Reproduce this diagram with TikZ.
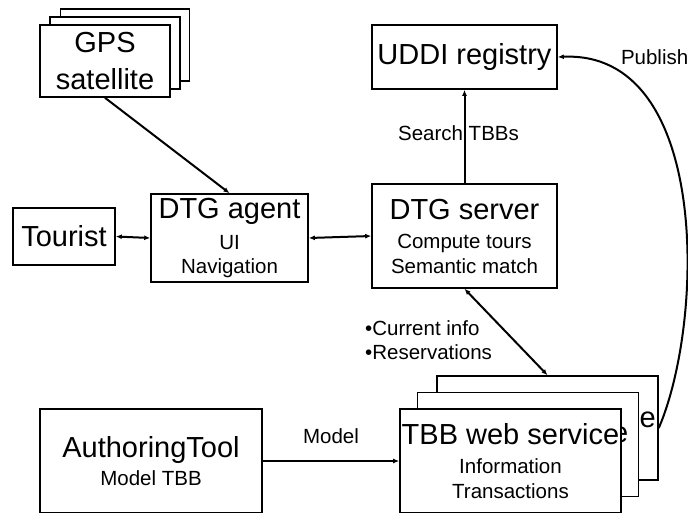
\documentclass[tikz,border=0pt]{standalone}
\usepackage{fontspec}
\setmainfont{Liberation Sans}
\usetikzlibrary{arrows.meta,positioning}
\def\bigf{\fontsize{29}{30}\selectfont}
\def\smf{\fontsize{20.5}{24.5}\selectfont}

\begin{document}
\begin{tikzpicture}[x=1pt, y=-1pt,
		box/.style={draw=black, line width=1.6pt, fill=white, inner sep=0pt, align=center},
		lbl/.style={inner sep=0pt, font=\smf},
		con/.style={line width=2pt, -{Latex[length=6pt,width=5pt]}},
		biconn/.style={line width=2pt, {Latex[length=6pt,width=5pt]}-{Latex[length=6pt,width=5pt]}}]
			%%%%% START %%%%%
			\useasboundingbox (0, 0) rectangle (688, 512);
			
			\node[box, minimum width=129pt, minimum height=72pt] (gps3) at (125, 45) {};
			\node[box, minimum width=130pt, minimum height=72pt] (gps2) at (115, 53) {};
			\node[box, font=\bigf, minimum width=130pt, minimum height=72pt] (gps) at (105, 61) {GPS\\[7pt]satellite};
			
			\node[box, font=\bigf, minimum width=102pt, minimum height=57pt] (tourist) at (64, 236.5) {Tourist};
			\node[box, font=\smf, minimum width=157pt, minimum height=88pt] (agent) at (229.5, 238) {{\bigf DTG agent}\\[6pt]UI\\Navigation};
			\node[box, font=\smf, minimum width=185pt, minimum height=104pt] (server) at (464.5, 236) {{\bigf DTG server}\\[5pt]Compute tours\\Semantic match};
			\node[box, font=\bigf, minimum width=185pt, minimum height=64pt] (uddi) at (464.5, 57) {UDDI registry};
			
			\node[box, minimum width=221pt, minimum height=104pt] (tbb3) at (547.5, 428) {};
			\node[font=\bigf, inner sep=0pt, anchor=base] (tbb3txt) at (547, 427) {TBB web service};
			\node[box, minimum width=221pt, minimum height=104pt] (tbb2) at (528, 444.5) {};
			\node[font=\bigf, inner sep=0pt, anchor=base] (tbb2txt) at (519.5, 442) {TBB web service};
			\node[box, font=\smf, minimum width=221pt, minimum height=104pt] (tbb) at (510.5, 461) {{\bigf TBB web service}\\[5pt]Information\\Transactions};
			
			\node[box, font=\smf, minimum width=222pt, minimum height=104pt] (author) at (151, 461) {{\bigf AuthoringTool}\\[3pt]Model TBB};
			
			\draw[con] (gps.south) -- (agent.north);
			\draw[biconn] (tourist.east) -- (agent.west);
			\draw[biconn] (agent.east) -- (server.west);
			\draw[con] (server.north) -- node[lbl, xshift=-6pt, yshift=3pt] (searchlbl) {Search TBBs} (uddi.south);
			\draw[biconn] (server.south) -- (tbb3.north);
			\node[lbl, anchor=north west, align=left] (infolbl) at (365, 320) {\textbullet Current info\\\textbullet Reservations};
			
			\draw[con] (author.east) -- node[lbl, above=16pt] (modellbl) {Model} (tbb.west);
			
			\draw[con] (tbb3.east) .. controls (705, 320) and (710, 50) .. (uddi.east);
			\node[lbl, right=63pt of uddi.east] (publbl) {Publish};
			%%%%% END %%%%%
\end{tikzpicture}
\end{document}
